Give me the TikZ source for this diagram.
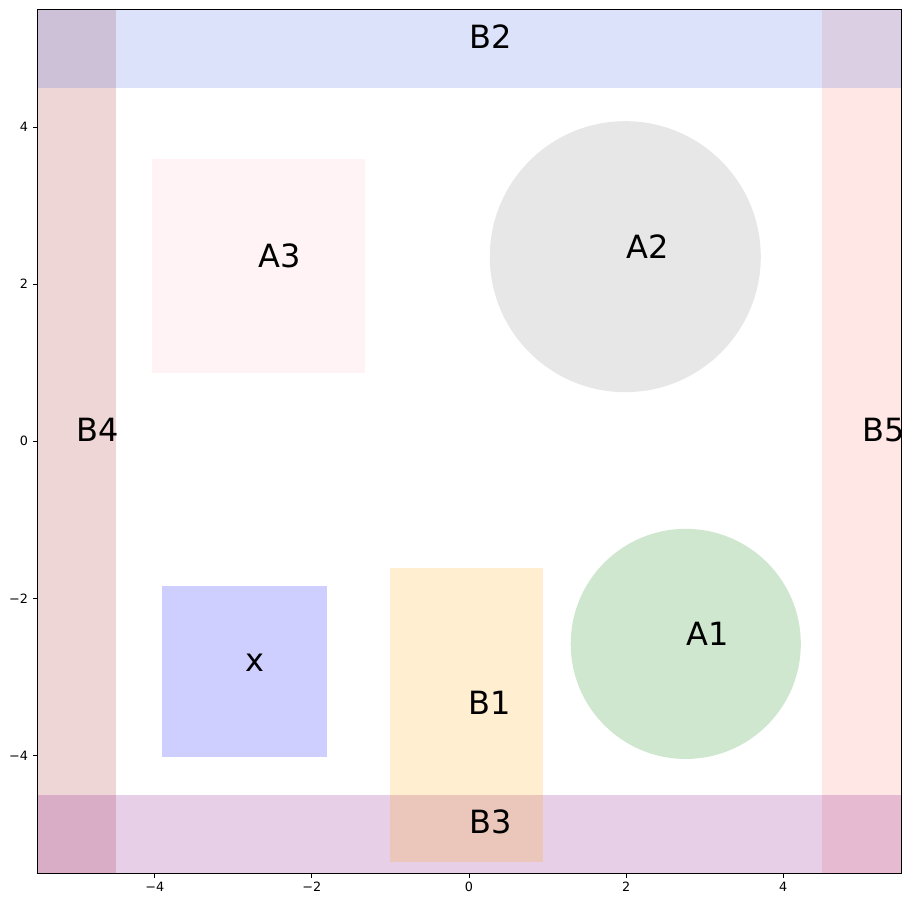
\documentclass[tikz,border=0pt]{standalone}
\usepackage{fontspec}
\setmainfont{DejaVu Sans}
\definecolor{cB2}{RGB}{65,105,225}
\definecolor{cB4}{RGB}{165,42,42}
\definecolor{cB5}{RGB}{250,128,114}
\definecolor{cB3}{RGB}{128,0,128}
\definecolor{cB1}{RGB}{255,165,0}
\definecolor{cA2}{RGB}{128,128,128}
\definecolor{cA1}{RGB}{0,128,0}
\definecolor{cA3}{RGB}{255,192,203}
\definecolor{cX}{RGB}{0,0,255}
\tikzset{
  patch/.style={fill=#1, fill opacity=0.19, draw=none},
  lbl/.style={anchor=base west, inner sep=0pt, font=\fontsize{16}{18}\selectfont},
  ticklbl/.style={inner sep=0pt, font=\fontsize{6.4}{7.5}\selectfont},
  tickmark/.style={line width=0.4pt}
}
\begin{document}
\begin{tikzpicture}[x=39.275pt,y=39.275pt]
\useasboundingbox (-5.971,-5.895) rectangle (5.653,5.618);
\fill[white] (-5.971,-5.895) rectangle (5.653,5.618);
% regions
\fill[patch=cB4] (-5.5,-5.5) rectangle (-4.5,5.5);
\fill[patch=cB5] (4.5,-5.5) rectangle (5.5,5.5);
\fill[patch=cB2] (-5.5,4.5) rectangle (5.5,5.5);
\fill[patch=cB3] (-5.5,-5.5) rectangle (5.5,-4.5);
\fill[patch=cB1] (-1.006,-5.356) rectangle (0.942,-1.608);
\fill[patch=cX] (-3.908,-4.019) rectangle (-1.808,-1.837);
\fill[patch=cA3] (-4.03,0.87) rectangle (-1.33,3.59);
\fill[patch=cA2] (1.99,2.35) circle (1.725);
\fill[patch=cA1] (2.76,-2.58) circle (1.465);
% labels
\node[lbl] (lB2) at (0,5) {B2};
\node[lbl] (lB3) at (0,-5) {B3};
\node[lbl] (lB4) at (-5,0) {B4};
\node[lbl] (lB5) at (5,0) {B5};
\node[lbl] (lB1) at (-0.01,-3.48) {B1};
\node[lbl] (lX) at (-2.85,-2.93) {x};
\node[lbl] (lA3) at (-2.68,2.21) {A3};
\node[lbl] (lA2) at (2.0,2.33) {A2};
\node[lbl] (lA1) at (2.77,-2.6) {A1};
% axes frame
\draw[line width=0.4pt] (-5.5,-5.5) rectangle (5.5,5.5);
% ticks
\foreach \v/\t [count=\i] in {-4/−4,-2/−2,0/0,2/2,4/4} {
  \draw[tickmark] (\v,-5.5) -- (\v,-5.555);
  \node[ticklbl, anchor=north] (xt\i) at (\v,-5.61) {\t};
  \draw[tickmark] (-5.5,\v) -- (-5.555,\v);
  \node[ticklbl, anchor=east] (yt\i) at (-5.61,\v) {\t};
}
\end{tikzpicture}
\end{document}
